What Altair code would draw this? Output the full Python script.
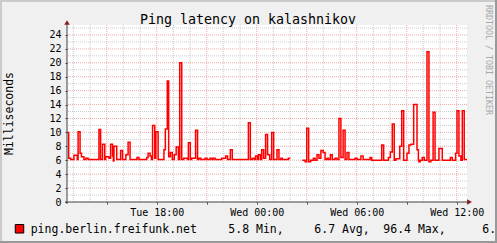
import altair as alt
import pandas as pd

# ---- data (minutes after window start, latency in ms) ----
window_start = "2023-01-03T12:37:00Z"
window_end = "2023-01-04T12:37:00Z"

seg1_minutes = [0, 6, 13, 25, 37, 40, 47, 52, 61, 68, 76, 115, 121, 128, 136, 139, 151, 157,
                164, 167, 169, 179, 193, 200, 212, 220, 227, 252, 259, 287, 292, 299, 304,
                308, 316, 320, 328, 349, 354, 361, 366, 372, 379, 386, 393, 401, 406, 413,
                420, 434, 437, 444, 449, 463, 470, 475, 482, 497, 504, 515, 522, 526, 533,
                557, 571, 578, 588, 595, 653, 660, 667, 674, 679, 686, 689, 696, 701, 708,
                715, 722, 730, 737, 744, 756, 763, 770, 775, 797, 804]
seg1_values = [10.0, 6.3, 6.1, 6.7, 6.1, 10.1, 7.0, 6.5, 6.1, 6.3, 6.1, 10.4, 6.1, 8.3, 6.1,
               6.5, 6.3, 8.3, 6.6, 5.9, 8.0, 6.1, 7.4, 6.1, 6.8, 8.6, 6.1, 6.4, 6.1, 6.4,
               7.0, 6.6, 6.1, 11.0, 6.3, 10.1, 6.1, 7.5, 10.5, 17.4, 6.5, 7.1, 6.1, 6.8,
               7.9, 6.1, 20.0, 6.1, 6.3, 6.1, 8.5, 6.1, 6.3, 10.3, 6.1, 6.3, 6.1, 6.3, 6.1,
               6.3, 6.1, 6.3, 6.1, 6.3, 6.6, 6.1, 7.5, 6.1, 11.4, 6.1, 6.3, 6.1, 6.6, 6.1,
               6.8, 6.1, 7.5, 6.3, 9.7, 6.8, 6.1, 10.0, 6.1, 7.5, 6.1, 6.3, 6.1, 6.3, 6.3]

seg2_minutes = [847, 857, 863, 870, 877, 887, 893, 900, 907, 914, 922, 929, 936, 941, 948,
                955, 965, 972, 979, 986, 994, 1001, 1008, 1015, 1037, 1044, 1058, 1066,
                1091, 1097, 1133, 1140, 1157, 1164, 1171, 1178, 1184, 1198, 1205, 1212,
                1224, 1231, 1238, 1248, 1260, 1265, 1267, 1272, 1279, 1286, 1296, 1303,
                1310, 1318, 1325, 1339, 1351, 1380, 1387, 1399, 1404, 1411, 1418, 1423,
                1430, 1440]
seg2_values = [6.0, 5.8, 10.6, 5.8, 6.0, 6.3, 6.0, 6.8, 6.3, 7.4, 7.1, 6.1, 6.3, 6.1, 6.8,
               6.1, 6.3, 6.1, 12.0, 6.4, 10.3, 6.1, 7.1, 6.1, 6.3, 6.1, 6.6, 6.1, 6.4, 6.0,
               8.2, 6.0, 6.4, 7.2, 11.2, 6.0, 6.2, 8.0, 13.1, 6.0, 7.0, 8.2, 8.3, 14.0, 7.5,
               6.0, 5.8, 6.0, 6.4, 6.0, 21.6, 5.8, 6.0, 12.9, 6.0, 7.7, 6.0, 6.4, 6.0, 7.0,
               13.1, 6.6, 6.0, 13.1, 6.1, 6.1]

title_text = "Ping latency on kalashnikov"
y_title = "Milliseconds"
watermark = "RRDTOOL / TOBI OETIKER"
legend_name = "ping.berlin.freifunk.net"
legend_stats = ["5.8 Min,", "6.7 Avg,", "96.4 Max,", "6."]

y_minor = list(range(1, 26, 2))
y_major = list(range(2, 25, 2))
y_labels = list(range(0, 25, 2))

# ---- build tables ----
t0 = pd.Timestamp(window_start)


def rows(mins, vals, seg):
    return [{"t": (t0 + pd.Timedelta(minutes=m)).strftime("%Y-%m-%dT%H:%M:%SZ"),
             "v": v, "seg": seg} for m, v in zip(mins, vals)]


df = pd.DataFrame(rows(seg1_minutes, seg1_values, "a") + rows(seg2_minutes, seg2_values, "b"))


def ms(ts):
    return int(pd.Timestamp(ts).value // 10**6)


x_domain = [ms(window_start), ms(window_end)]
hours = pd.date_range("2023-01-03T13:00Z", "2023-01-04T12:00Z", freq="h")
x_minor = [ms(h) for h in hours if h.hour % 3 != 0]
x_major = [ms(h) for h in hours if h.hour % 3 == 0]

W, H = 400, 177
FONT = "DejaVu Sans Mono"
MINOR = "#CBCBCB"
MAJOR = "#EDABAB"
AXIS = "#404040"
ARROW = "#8B1A1A"

xs = alt.Scale(type="utc", domain=x_domain, nice=False)
ys = alt.Scale(domain=[0, 25.43], nice=False, zero=True)

label_expr = ("utcFormat(datum.value, '%H') % 6 == 0 ? "
              "utcFormat(datum.value, '%a %H:%M') : ''")

x_axis = alt.Axis(
    orient="bottom", values=x_major, grid=False, ticks=True, tickSize=2,
    tickColor=AXIS, domain=False, labelExpr=label_expr, labelFont=FONT,
    labelFontSize=10, labelColor="#000000", labelPadding=3, labelFlush=False,
    labelOverlap=False, title="")
y_axis = alt.Axis(
    orient="left", values=y_labels, grid=False, ticks=True, tickSize=2,
    tickColor=AXIS, domain=False, labelFont=FONT, labelFontSize=10,
    labelColor="#000000", labelPadding=4, labelOverlap=False, labelFlush=False,
    title="")


def vgrid(vals, color):
    return alt.Chart(pd.DataFrame({"g": vals})).mark_rule(
        color=color, strokeWidth=1, strokeDash=[1, 1]).encode(
        x=alt.X("g:T", scale=xs, axis=x_axis))


def hgrid(vals, color):
    return alt.Chart(pd.DataFrame({"g": vals})).mark_rule(
        color=color, strokeWidth=1, strokeDash=[1, 1]).encode(
        y=alt.Y("g:Q", scale=ys, axis=y_axis))


grids = [vgrid(x_minor, MINOR), hgrid(y_minor, MINOR),
         vgrid(x_major, MAJOR), hgrid(y_major, MAJOR)]

line = alt.Chart(df).mark_line(interpolate="step-after", color="#FF0000",
                               strokeWidth=1.5).encode(
    x=alt.X("t:T", scale=xs, axis=x_axis),
    y=alt.Y("v:Q", scale=ys, axis=y_axis),
    detail="seg:N")

one = alt.Data(values=[{"k": 1}])

y_axis_line = alt.Chart(one).mark_rule(color=AXIS, strokeWidth=1).encode(
    x=alt.value(0), y=alt.value(-3), y2=alt.value(H + 2))
x_axis_line = alt.Chart(one).mark_rule(color=AXIS, strokeWidth=1).encode(
    x=alt.value(-2), x2=alt.value(W + 3), y=alt.value(H))
up_arrow = alt.Chart(one).mark_point(shape="triangle-up", filled=True, color=ARROW,
                                     size=30, opacity=1).encode(
    x=alt.value(0), y=alt.value(-2.5))
right_arrow = alt.Chart(one).mark_point(shape="triangle-right", filled=True, color=ARROW,
                                        size=30, opacity=1).encode(
    x=alt.value(W + 2.5), y=alt.value(H))

title = alt.Chart(one).mark_text(text=title_text, font=FONT, fontSize=13.3, color="#000000",
                                 align="center", baseline="alphabetic").encode(
    x=alt.value(181), y=alt.value(-1.5))
ytitle = alt.Chart(one).mark_text(text=y_title, font=FONT, fontSize=11.5, color="#000000",
                                  align="center", baseline="middle", angle=270).encode(
    x=alt.value(-57), y=alt.value(H / 2))
wmark = alt.Chart(one).mark_text(text=watermark, font=FONT, fontSize=8.3, color="#A8A8A8",
                                 align="left", baseline="middle", angle=90).encode(
    x=alt.value(420.7), y=alt.value(-20))

swatch = alt.Chart(one).mark_square(size=72, color="#FF0000", stroke="#000000",
                                    strokeWidth=1, opacity=1).encode(
    x=alt.value(-47.5), y=alt.value(203.8))


def legend_text(txt, xpos):
    return alt.Chart(one).mark_text(text=txt, font=FONT, fontSize=11.5, color="#000000",
                                    align="left", baseline="alphabetic").encode(
        x=alt.value(xpos), y=alt.value(208.3))


leg = [legend_text(legend_name, -36.3)]
for txt, xpos in zip(legend_stats, [161.3, 247.3, 316.3, 415.3]):
    leg.append(legend_text(txt, xpos))

frame = [
    alt.Chart(one).mark_rule(color="#CBCBCB", strokeWidth=2).encode(
        x=alt.value(-66), y=alt.value(-25), y2=alt.value(218)),
    alt.Chart(one).mark_rule(color="#CBCBCB", strokeWidth=2).encode(
        x=alt.value(-67), x2=alt.value(430), y=alt.value(-24)),
    alt.Chart(one).mark_rule(color="#999999", strokeWidth=2).encode(
        x=alt.value(429), y=alt.value(-25), y2=alt.value(218)),
    alt.Chart(one).mark_rule(color="#999999", strokeWidth=2).encode(
        x=alt.value(-67), x2=alt.value(430), y=alt.value(217)),
]

chart = alt.layer(
    *grids, line, y_axis_line, x_axis_line, up_arrow, right_arrow,
    title, ytitle, wmark, swatch, *leg, *frame
).properties(
    width=W, height=H,
    autosize=alt.AutoSizeParams(type="none"),
    padding={"left": 67, "top": 25, "right": 30, "bottom": 41},
    background="#F0F0F0",
).configure_view(strokeWidth=0, fill="#FFFFFF").configure_axis(labelOverlap=False)

chart.save("out.html", embed_options={"renderer": "svg", "actions": False})
